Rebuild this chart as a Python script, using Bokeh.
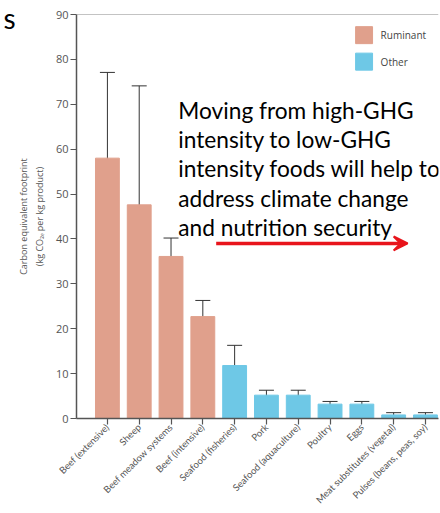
import math

from bokeh.embed import file_html
from bokeh.models import (Arrow, ColumnDataSource, FixedTicker, Label, LinearAxis,
                          Range1d, Span, TeeHead, VeeHead, Whisker)
from bokeh.plotting import figure
from bokeh.resources import INLINE

# Carbon footprint per food type (kg CO2e per kg product), with ranges
foods = ["Beef (extensive)", "Sheep", "Beef meadow systems", "Beef (intensive)",
         "Seafood (fisheries)", "Pork", "Seafood (aquaculture)", "Poultry", "Eggs",
         "Meat substitutes (vegetal)", "Pulses (beans, peas, soy)"]
footprint = [58.0, 47.6, 36.1, 22.7, 11.8, 5.2, 5.2, 3.2, 3.2, 0.8, 0.8]
upper = [77.1, 74.1, 40.2, 26.3, 16.3, 6.3, 6.3, 3.8, 3.8, 1.3, 1.3]
lower = [38.9, 21.8, 32.3, 19.2, 7.3, 4.3, 4.3, 2.7, 2.7, 0.3, 0.3]
group = ["Ruminant"] * 4 + ["Other"] * 7

group_names = ["Ruminant", "Other"]
group_colors = {"Ruminant": "#E0A08C", "Other": "#6EC8E6"}
y_ticks = [0, 10, 20, 30, 40, 50, 60, 70, 80, 90]

message = ["Moving from high-GHG",
           "intensity to low-GHG",
           "intensity foods will help to",
           "address climate change",
           "and nutrition security"]

FONT = "Open Sans"
GREY = "#555555"

xs = list(range(len(foods)))
src = ColumnDataSource(dict(
    x=xs, top=footprint, upper=upper, lower=lower,
    color=[group_colors[g] for g in group],
))

p = figure(width=440, height=513, output_backend="svg", toolbar_location=None,
           x_range=Range1d(-0.972, 10.41), y_range=Range1d(0, 90),
           min_border_left=75, min_border_right=2, min_border_top=14,
           min_border_bottom=95)
p.outline_line_color = None
p.grid.grid_line_color = None

p.vbar(x="x", top="top", width=0.75, color="color", source=src)
p.add_layout(Whisker(source=src, base="x", upper="upper", lower="lower",
                     line_color="#333333", line_width=1,
                     upper_head=TeeHead(size=15, line_color="#333333", line_width=1),
                     lower_head=TeeHead(size=15, line_color="#333333", line_width=1)))

# top frame line
p.add_layout(Span(location=90, dimension="width", line_color="#888888", line_width=1.2))

# axes
p.xaxis.ticker = FixedTicker(ticks=xs)
p.xaxis.major_label_overrides = {i: f for i, f in enumerate(foods)}
p.xaxis.major_label_orientation = math.pi / 4
p.xaxis.minor_tick_line_color = None
p.yaxis.ticker = FixedTicker(ticks=y_ticks)
p.yaxis.minor_tick_line_color = None
for ax in (p.xaxis[0], p.yaxis[0]):
    ax.axis_line_color = GREY
    ax.axis_line_width = 1.5
    ax.major_tick_line_color = GREY
    ax.major_tick_line_width = 1.2
    ax.major_tick_out = 6
    ax.major_tick_in = 0
    ax.major_label_text_color = GREY
    ax.major_label_standoff = 2
p.xaxis.major_label_text_font = "Lato"
p.xaxis.major_label_text_font_size = "9.5px"
p.xaxis.major_label_standoff = 1
p.yaxis.major_label_text_font = FONT
p.yaxis.major_label_text_font_size = "11px"

# y axis title in two lines
p.yaxis.axis_label = "Carbon equivalent footprint\n(kg CO₂ₑ per kg product)"
p.yaxis.axis_label_text_font = FONT
p.yaxis.axis_label_text_font_size = "9px"
p.yaxis.axis_label_text_font_style = "normal"
p.yaxis.axis_label_text_color = GREY
p.yaxis.axis_label_standoff = 7

# trailing letter of the slide title, carried by a bare outer axis
title_tail = LinearAxis(ticker=FixedTicker(ticks=[89.15]),
                        major_label_overrides={89.15: "s"},
                        axis_line_color=None, major_tick_line_color=None,
                        minor_tick_line_color=None, major_tick_out=0, major_tick_in=0,
                        major_label_standoff=-1, major_label_text_font="Lato",
                        major_label_text_font_size="28px",
                        major_label_text_color="#000000")
p.add_layout(title_tail, "left")

# legend
for i, g in enumerate(group_names):
    yc = 85.4 - i * 5.9
    p.rect(x=8.07, y=yc, width=0.533, height=3.79, color=group_colors[g])
    p.add_layout(Label(x=8.59, y=yc, text=g, text_align="left", text_baseline="middle",
                       text_font=FONT, text_font_size="10px", text_color="#444444"))

# message and arrow
for i, line in enumerate(message):
    p.add_layout(Label(x=2.23, y=68.7 - i * 6.54, text=line, text_align="left",
                       text_baseline="alphabetic", text_font="Lato",
                       text_font_size="22.7px", text_color="#000000"))
p.add_layout(Arrow(x_start=3.42, y_start=39.0, x_end=9.44, y_end=39.0,
                   line_color="#E8141B", line_width=3.5,
                   end=VeeHead(size=14, fill_color="#E8141B", line_color="#E8141B",
                               line_width=2)))

open("out.html", "w").write(file_html(p, INLINE))
